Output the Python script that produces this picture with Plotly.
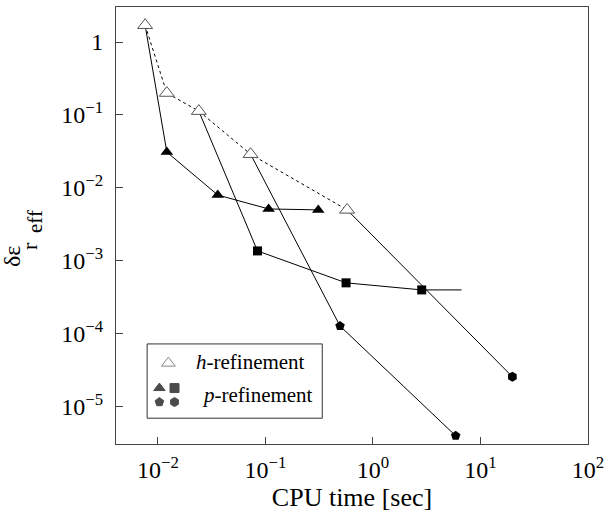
import plotly.graph_objects as go

# h-refinement sequence (coarse meshes, dashed line, open triangles)
h_time = [0.0076, 0.0121, 0.024, 0.0727, 0.575]
h_err = [1.7, 0.2, 0.113, 0.029, 0.005]

# p-refinement branches, each starting from an h-refinement mesh
p1_time = [0.0076, 0.0121, 0.036, 0.107, 0.31]
p1_err = [1.7, 0.031, 0.008, 0.00515, 0.005]

p2_time = [0.024, 0.0843, 0.562, 2.84, 6.67]
p2_err = [0.113, 0.00137, 0.0005, 0.0004, 0.0004]

p3_time = [0.0727, 0.494, 5.88]
p3_err = [0.029, 0.000128, 0.000004]

p4_time = [0.575, 19.8]
p4_err = [0.005, 0.0000258]

x_ticks = [0.01, 0.1, 1, 10, 100]
x_tick_text = ["10<sup>\u22122</sup>", "10<sup>\u22121</sup>", "10<sup>0</sup>",
               "10<sup>1</sup>", "10<sup>2</sup>"]
y_ticks = [1, 0.1, 0.01, 0.001, 0.0001, 0.00001]
y_tick_text = ["1", "10<sup>\u22121</sup>", "10<sup>\u22122</sup>", "10<sup>\u22123</sup>",
               "10<sup>\u22124</sup>", "10<sup>\u22125</sup>"]

FONT = "Liberation Serif"
LINE = dict(color="black", width=1)

fig = go.Figure()

fig.add_trace(go.Scatter(x=h_time, y=h_err, mode="lines",
                         line=dict(color="black", width=1, dash="3px,3px")))
fig.add_trace(go.Scatter(x=p1_time, y=p1_err, mode="lines", line=LINE))
fig.add_trace(go.Scatter(x=p2_time, y=p2_err, mode="lines", line=LINE))
fig.add_trace(go.Scatter(x=p3_time, y=p3_err, mode="lines", line=LINE))
fig.add_trace(go.Scatter(x=p4_time, y=p4_err, mode="lines", line=LINE))

# markers
fig.add_trace(go.Scatter(x=p1_time[1:], y=p1_err[1:], mode="markers",
                         marker=dict(symbol="triangle-up", size=11, color="black")))
fig.add_trace(go.Scatter(x=p2_time[1:-1], y=p2_err[1:-1], mode="markers",
                         marker=dict(symbol="square", size=9, color="black")))
fig.add_trace(go.Scatter(x=p3_time[1:], y=p3_err[1:], mode="markers",
                         marker=dict(symbol="pentagon", size=10, color="black")))
fig.add_trace(go.Scatter(x=p4_time[1:], y=p4_err[1:], mode="markers",
                         marker=dict(symbol="hexagon", size=10, color="black")))
fig.add_trace(go.Scatter(x=h_time, y=h_err, mode="markers",
                         marker=dict(symbol="triangle-up", size=13, color="white",
                                     line=dict(color="#555", width=1))))

# legend symbols drawn on an overlay axis spanning the plot area
leg_x = [0.111, 0.092, 0.124, 0.092, 0.124]
leg_y = [0.185, 0.128, 0.128, 0.096, 0.096]
leg_sym = ["triangle-up", "triangle-up", "square", "pentagon", "hexagon"]
leg_col = ["white", "black", "black", "black", "black"]
leg_line = ["#555", "black", "black", "black", "black"]
fig.add_trace(go.Scatter(x=leg_x, y=leg_y, mode="markers", xaxis="x2", yaxis="y2",
                         marker=dict(symbol=leg_sym, size=[12, 10, 9, 9, 9], color=leg_col,
                                     line=dict(color=leg_line, width=1))))

fig.add_shape(type="rect", xref="paper", yref="paper",
              x0=0.066, x1=0.437, y0=0.059, y1=0.229,
              line=dict(color="#333", width=1), fillcolor="rgba(0,0,0,0)")
fig.add_annotation(xref="paper", yref="paper", x=0.166, y=0.187, xanchor="left",
                   yanchor="middle", showarrow=False,
                   text="<i>h</i>-refinement", font=dict(family=FONT, size=21, color="black"))
fig.add_annotation(xref="paper", yref="paper", x=0.178, y=0.112, xanchor="left",
                   yanchor="middle", showarrow=False,
                   text="<i>p</i>-refinement", font=dict(family=FONT, size=21, color="black"))

# vertical y-axis label: delta epsilon with subscript r and sub-subscript eff
y_label_parts = [("\u03b4\u03b5", 24, -0.2203, 0.4280),
                 ("r", 22, -0.1843, 0.4530),
                 ("eff", 21, -0.1716, 0.5080)]
for txt, sz, px, py in y_label_parts:
    fig.add_annotation(xref="paper", yref="paper", x=px, y=py, xanchor="center",
                       yanchor="middle", showarrow=False, textangle=-90, text=txt,
                       font=dict(family=FONT, size=sz, color="black"))

AX_FONT = dict(family=FONT, size=24, color="black")

fig.update_layout(
    width=610, height=525,
    margin=dict(l=116, r=22, t=7, b=81),
    paper_bgcolor="white", plot_bgcolor="white",
    showlegend=False,
    font=AX_FONT,
    xaxis=dict(type="log", range=[-2.39, 2.0], tickvals=x_ticks, ticktext=x_tick_text,
               tickfont=AX_FONT,
               ticks="inside", ticklen=7, tickcolor="#444", showgrid=False, zeroline=False,
               showline=True, linecolor="#444", linewidth=1, mirror=True,
               ticklabelstandoff=4,
               title=dict(text="CPU time [sec]", font=dict(family=FONT, size=26, color="black"),
                          standoff=4)),
    yaxis=dict(type="log", range=[-5.51, 0.48], tickvals=y_ticks, ticktext=y_tick_text,
               tickfont=AX_FONT,
               ticks="inside", ticklen=7, tickcolor="#444", showgrid=False, zeroline=False,
               showline=True, linecolor="#444", linewidth=1, mirror=True,
               ticklabelstandoff=7),
    xaxis2=dict(overlaying="x", range=[0, 1], visible=False),
    yaxis2=dict(overlaying="y", range=[0, 1], visible=False),
)

fig.write_html("out.html")
